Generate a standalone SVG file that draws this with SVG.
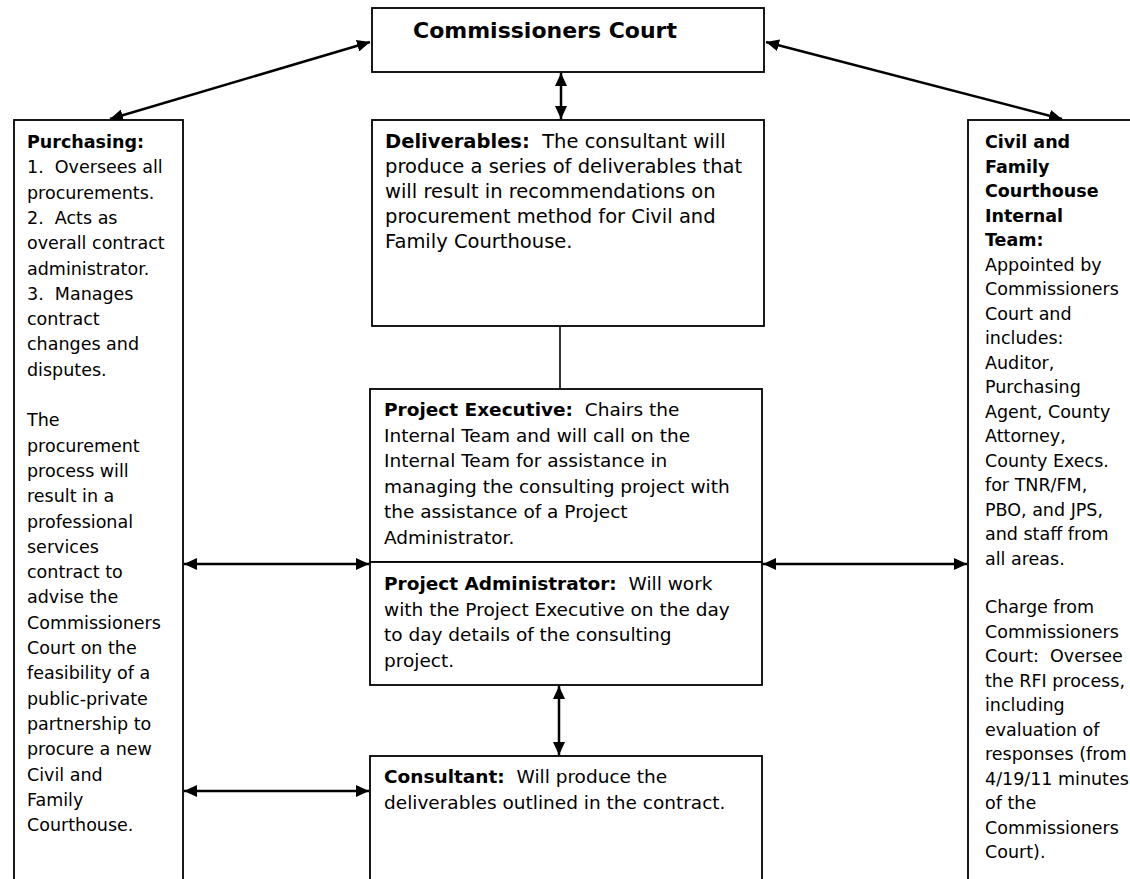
<svg xmlns="http://www.w3.org/2000/svg" width="1130" height="879" viewBox="0 0 1130 879">
<style>
.box{fill:#fff;stroke:#000;stroke-width:1.8}
.t{font-family:"DejaVu Sans","Verdana",sans-serif;font-size:17.5px;fill:#000;white-space:pre}
.m{font-size:18.5px}
.d{font-size:19.5px}
.b{font-weight:bold}
.c{stroke:#000;stroke-width:2.5;fill:none}
.thin{stroke:#000;stroke-width:1.6;fill:none}
</style>
<defs>
<marker id="ah" viewBox="0 0 13 12" refX="13" refY="6" markerWidth="13" markerHeight="12" markerUnits="userSpaceOnUse" orient="auto-start-reverse">
<path d="M0,0 L13,6 L0,12 z" fill="#000"/>
</marker>
</defs>
<rect width="1130" height="879" fill="#fff"/>
<g id="connectors">
<line class="c" x1="370" y1="42" x2="110" y2="119" marker-start="url(#ah)" marker-end="url(#ah)"/>
<line class="c" x1="766" y1="42" x2="1062" y2="119" marker-start="url(#ah)" marker-end="url(#ah)"/>
<line class="c" x1="561" y1="73" x2="561" y2="119" marker-start="url(#ah)" marker-end="url(#ah)"/>
<line class="thin" x1="560" y1="326" x2="560" y2="389"/>
<line class="c" x1="559" y1="686" x2="559" y2="755" marker-start="url(#ah)" marker-end="url(#ah)"/>
<line class="c" x1="184" y1="564" x2="369" y2="564" marker-start="url(#ah)" marker-end="url(#ah)"/>
<line class="c" x1="763" y1="564" x2="967" y2="564" marker-start="url(#ah)" marker-end="url(#ah)"/>
<line class="c" x1="184" y1="791" x2="369" y2="791" marker-start="url(#ah)" marker-end="url(#ah)"/>
</g>
<g id="commissioners-court">
<rect class="box" x="372" y="8" width="392" height="64"/>
<text class="t b" x="545" y="38" style="font-size:22px" text-anchor="middle">Commissioners Court</text>
</g>
<g id="deliverables">
<rect class="box" x="372" y="120" width="392" height="206"/>
<text class="t d" x="385" y="148"><tspan class="b">Deliverables:</tspan>  The consultant will</text>
<text class="t d" x="385" y="173">produce a series of deliverables that</text>
<text class="t d" x="385" y="198">will result in recommendations on</text>
<text class="t d" x="385" y="223">procurement method for Civil and</text>
<text class="t d" x="385" y="248">Family Courthouse.</text>
</g>
<g id="project-executive">
<rect class="box" x="370" y="389" width="392" height="173"/>
<text class="t m" x="384" y="416"><tspan class="b">Project Executive:</tspan>  Chairs the</text>
<text class="t m" x="384" y="441.5">Internal Team and will call on the</text>
<text class="t m" x="384" y="467">Internal Team for assistance in</text>
<text class="t m" x="384" y="492.5">managing the consulting project with</text>
<text class="t m" x="384" y="518">the assistance of a Project</text>
<text class="t m" x="384" y="543.5">Administrator.</text>
</g>
<g id="project-administrator">
<rect class="box" x="370" y="562" width="392" height="123"/>
<text class="t m" x="384" y="590"><tspan class="b">Project Administrator:</tspan>  Will work</text>
<text class="t m" x="384" y="615.5">with the Project Executive on the day</text>
<text class="t m" x="384" y="641">to day details of the consulting</text>
<text class="t m" x="384" y="666.5">project.</text>
</g>
<g id="consultant">
<rect class="box" x="370" y="756" width="392" height="140"/>
<text class="t m" x="384" y="783"><tspan class="b">Consultant:</tspan>  Will produce the</text>
<text class="t m" x="384" y="809">deliverables outlined in the contract.</text>
</g>
<g id="purchasing">
<rect class="box" x="14" y="120" width="169" height="780"/>
<text class="t" x="27" y="148"><tspan class="b">Purchasing:</tspan></text>
<text class="t" x="27" y="173.3">1.  Oversees all</text>
<text class="t" x="27" y="198.6">procurements.</text>
<text class="t" x="27" y="223.9">2.  Acts as</text>
<text class="t" x="27" y="249.2">overall contract</text>
<text class="t" x="27" y="274.5">administrator.</text>
<text class="t" x="27" y="299.8">3.  Manages</text>
<text class="t" x="27" y="325.1">contract</text>
<text class="t" x="27" y="350.4">changes and</text>
<text class="t" x="27" y="375.7">disputes.</text>
<text class="t" x="27" y="426.3">The</text>
<text class="t" x="27" y="451.6">procurement</text>
<text class="t" x="27" y="476.9">process will</text>
<text class="t" x="27" y="502.2">result in a</text>
<text class="t" x="27" y="527.5">professional</text>
<text class="t" x="27" y="552.8">services</text>
<text class="t" x="27" y="578.1">contract to</text>
<text class="t" x="27" y="603.4">advise the</text>
<text class="t" x="27" y="628.7">Commissioners</text>
<text class="t" x="27" y="654">Court on the</text>
<text class="t" x="27" y="679.3">feasibility of a</text>
<text class="t" x="27" y="704.6">public-private</text>
<text class="t" x="27" y="729.9">partnership to</text>
<text class="t" x="27" y="755.2">procure a new</text>
<text class="t" x="27" y="780.5">Civil and</text>
<text class="t" x="27" y="805.8">Family</text>
<text class="t" x="27" y="831.1">Courthouse.</text>
</g>
<g id="internal-team">
<rect class="box" x="968" y="120" width="200" height="780"/>
<text class="t b" x="985" y="148">Civil and</text>
<text class="t b" x="985" y="172.5">Family</text>
<text class="t b" x="985" y="197">Courthouse</text>
<text class="t b" x="985" y="221.5">Internal</text>
<text class="t b" x="985" y="246">Team:</text>
<text class="t" x="985" y="270.5">Appointed by</text>
<text class="t" x="985" y="295">Commissioners</text>
<text class="t" x="985" y="319.5">Court and</text>
<text class="t" x="985" y="344">includes:</text>
<text class="t" x="985" y="368.5">Auditor,</text>
<text class="t" x="985" y="393">Purchasing</text>
<text class="t" x="985" y="417.5">Agent, County</text>
<text class="t" x="985" y="442">Attorney,</text>
<text class="t" x="985" y="466.5">County Execs.</text>
<text class="t" x="985" y="491">for TNR/FM,</text>
<text class="t" x="985" y="515.5">PBO, and JPS,</text>
<text class="t" x="985" y="540">and staff from</text>
<text class="t" x="985" y="564.5">all areas.</text>
<text class="t" x="985" y="613">Charge from</text>
<text class="t" x="985" y="637.5">Commissioners</text>
<text class="t" x="985" y="662">Court:  Oversee</text>
<text class="t" x="985" y="686.5">the RFI process,</text>
<text class="t" x="985" y="711">including</text>
<text class="t" x="985" y="735.5">evaluation of</text>
<text class="t" x="985" y="760">responses (from</text>
<text class="t" x="985" y="784.5">4/19/11 minutes</text>
<text class="t" x="985" y="809">of the</text>
<text class="t" x="985" y="833.5">Commissioners</text>
<text class="t" x="985" y="858">Court).</text>
</g>
</svg>
